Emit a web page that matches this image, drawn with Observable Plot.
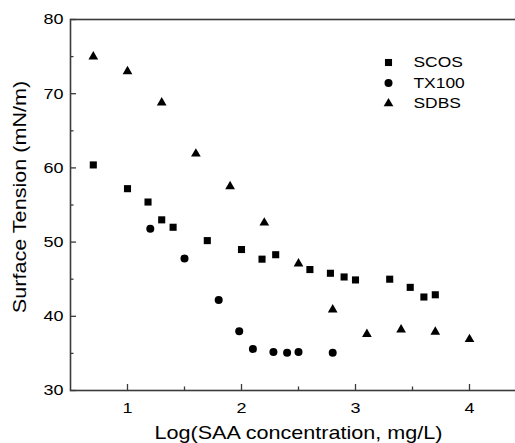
<!DOCTYPE html>
<html>
<head>
<meta charset="utf-8">
<script src="https://cdn.jsdelivr.net/npm/d3@7"></script>
<script src="https://cdn.jsdelivr.net/npm/@observablehq/plot@0.6"></script>
<style>
html, body { margin: 0; padding: 0; overflow: hidden; background: #fff; }
#chart svg { max-width: none !important; }
</style>
</head>
<body>
<div id="chart"></div>
<script>
// Data
const scosX = [0.7, 1.0, 1.18, 1.3, 1.4, 1.7, 2.0, 2.18, 2.3, 2.6, 2.78, 2.9, 3.0, 3.3, 3.48, 3.6, 3.7];
const scosY = [60.4, 57.2, 55.4, 53.0, 52.0, 50.2, 49.0, 47.7, 48.3, 46.3, 45.8, 45.3, 44.9, 45.0, 43.9, 42.6, 42.9];
const tx100X = [1.2, 1.5, 1.8, 1.98, 2.1, 2.28, 2.4, 2.5, 2.8];
const tx100Y = [51.8, 47.8, 42.2, 38.0, 35.6, 35.2, 35.1, 35.2, 35.1];
const sdbsX = [0.7, 1.0, 1.3, 1.6, 1.9, 2.2, 2.5, 2.8, 3.1, 3.4, 3.7, 4.0];
const sdbsY = [75.0, 73.0, 68.8, 61.9, 57.5, 52.6, 47.1, 40.9, 37.6, 38.2, 37.9, 36.9];

const seriesNames = ["SCOS", "TX100", "SDBS"];
const xTicks = [1, 2, 3, 4];
const xMinorTicks = [1.5, 2.5, 3.5];
const yTicks = [30, 40, 50, 60, 70, 80];
const yMinorTicks = [35, 45, 55, 65, 75];
const xTitle = "Log(SAA concentration, mg/L)";
const yTitle = "Surface Tension (mN/m)";

const W = 526, H = 443, ML = 70, MR = 0, MT = 19, MB = 53;
const frameW = W - ML - MR, frameH = H - MT - MB;
const axisColor = "#3a3a3a";
const textStretch = 1.2;

const series = [
  {name: seriesNames[0], xs: scosX, ys: scosY, symbol: "square", r: 4},
  {name: seriesNames[1], xs: tx100X, ys: tx100Y, symbol: "circle", r: 4},
  {name: seriesNames[2], xs: sdbsX, ys: sdbsY, symbol: "triangle", r: 3.6}
];

const marks = [];
// tick labels
marks.push(Plot.axisX(xTicks, {tickSize: 0, tickPadding: 12, label: null, fontSize: 15, tickFormat: d => String(d)}));
marks.push(Plot.axisY(yTicks, {tickSize: 0, tickPadding: 7, label: null, fontSize: 15, tickFormat: d => String(d)}));
// inward ticks
marks.push(Plot.ruleX(xTicks, {insetTop: frameH - 6, stroke: axisColor, strokeWidth: 1.3}));
marks.push(Plot.ruleX(xMinorTicks, {insetTop: frameH - 3.5, stroke: axisColor, strokeWidth: 1.3}));
marks.push(Plot.ruleY(yTicks, {insetRight: frameW - 6, stroke: axisColor, strokeWidth: 1.3}));
marks.push(Plot.ruleY(yMinorTicks, {insetRight: frameW - 3.5, stroke: axisColor, strokeWidth: 1.3}));
marks.push(Plot.frame({stroke: axisColor, strokeWidth: 1.6}));

// data points
for (const s of series) {
  const rows = s.xs.map((x, i) => ({x, y: s.ys[i]}));
  marks.push(Plot.dot(rows, {x: "x", y: "y", symbol: () => s.symbol, r: s.r, fill: "#000", stroke: "none"}));
}

// legend
series.forEach((s, i) => {
  const dy = 43 + 20.5 * i;
  marks.push(Plot.dot([s.name], {frameAnchor: "top-left", dx: 318, dy, symbol: () => s.symbol, r: s.r, fill: "#000", stroke: "none"}));
  marks.push(Plot.text([s.name], {text: d => d, frameAnchor: "top-left", dx: 343, dy, textAnchor: "start", lineAnchor: "middle", fontSize: 14.5, fill: "#000"}));
});

// axis titles
marks.push(Plot.text([xTitle], {text: d => d, frameAnchor: "bottom", dy: 43, textAnchor: "middle", lineAnchor: "middle", fontSize: 18, fill: "#000"}));
marks.push(Plot.text([yTitle], {text: d => d, frameAnchor: "left", dx: -50, dy: -8, rotate: -90, textAnchor: "middle", lineAnchor: "middle", fontSize: 18, fill: "#000"}));

const chart = Plot.plot({
  width: W, height: H,
  marginLeft: ML, marginRight: MR, marginTop: MT, marginBottom: MB,
  style: {fontFamily: "'Liberation Sans', Arial, Helvetica, sans-serif", fontSize: "15px", color: "#000", background: "#fff", maxWidth: "none"},
  x: {domain: [0.5, 4.5]},
  y: {domain: [30, 80]},
  symbol: {type: "identity"},
  marks
});
chart.style.maxWidth = "none";
chart.style.width = W + "px";

// widen the lettering horizontally (along each text's own direction) to match the reference typeface
d3.select(chart).selectAll("text").each(function() {
  const t = this.getAttribute("transform");
  if (t) {
    this.setAttribute("transform", t + ` scale(${textStretch},1)`);
  } else {
    const x = +(this.getAttribute("x") || 0), y = +(this.getAttribute("y") || 0);
    this.removeAttribute("x"); this.removeAttribute("y");
    this.setAttribute("transform", `translate(${x},${y}) scale(${textStretch},1)`);
  }
});
document.getElementById("chart").appendChild(chart);
</script>
</body>
</html>
